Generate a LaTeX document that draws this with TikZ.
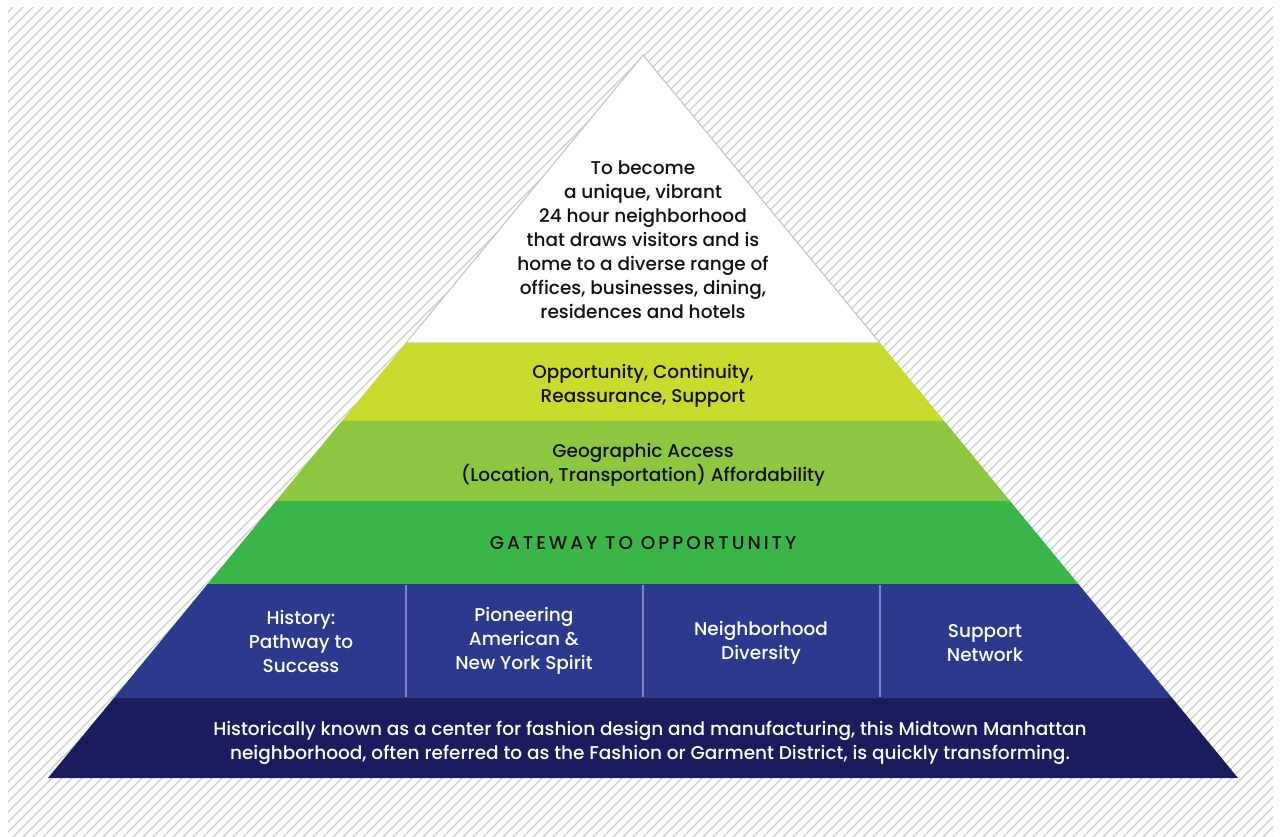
\documentclass[tikz,border=0pt]{standalone}
\usepackage{fontspec}
\setmainfont{Poppins}[UprightFont=* Medium]
\usetikzlibrary{calc}
\definecolor{hatchgray}{HTML}{CCCCCC}
\definecolor{edgegray}{HTML}{C8C8C8}
\definecolor{lime}{HTML}{C9DA2C}
\definecolor{leaf}{HTML}{8DC63F}
\definecolor{grass}{HTML}{39B54A}
\definecolor{royal}{HTML}{2C3A8E}
\definecolor{navy}{HTML}{1B1C5E}
\definecolor{divider}{HTML}{8083C0}
\definecolor{ink}{HTML}{111111}
\tikzset{
  band/.style={draw=none},
  dark/.style={text=ink, align=center, font=\fontsize{18.5}{24}\selectfont},
  light/.style={text=white, align=center, font=\fontsize{18.5}{24}\selectfont},
  hatch/.style={draw=hatchgray, line width=1.3pt},
  sep/.style={draw=divider, line width=2.6pt}
}
\begin{document}
\begin{tikzpicture}[x=1pt, y=-1pt]
\useasboundingbox (0,0) rectangle (1282,837);
% diagonal hatching behind the pyramid
\begin{scope}
  \clip (8,8) rectangle (1273,837);
  \foreach \i in {-840,-830,...,1280}
    \draw[hatch] (\i,840) -- ++(840,-840);
\end{scope}
% pyramid outline points
\coordinate (apex) at (643,55);
\coordinate (bl) at (48,778);
\coordinate (br) at (1238,778);
\foreach \n/\t in {1/0.3983,2/0.5062,3/0.6169,4/0.7317,5/0.8894}{
  \coordinate (L\n) at ($(apex)!\t!(bl)$);
  \coordinate (R\n) at ($(apex)!\t!(br)$);
}
% white top with grey rim
\fill[white] (apex) -- (L1) -- (R1) -- cycle;
\draw[edgegray, line width=1.2pt, line join=miter] (L1) -- (apex) -- (R1) -- cycle;
% coloured tiers
\fill[lime]  (L1) -- (R1) -- (R2) -- (L2) -- cycle;
\fill[leaf]  (L2) -- (R2) -- (R3) -- (L3) -- cycle;
\fill[grass] (L3) -- (R3) -- (R4) -- (L4) -- cycle;
\fill[royal] (L4) -- (R4) -- (R5) -- (L5) -- cycle;
\fill[navy]  (L5) -- (R5) -- (br) -- (bl) -- cycle;
% column dividers in the blue tier
\coordinate (d1t) at (406,585); \coordinate (d1b) at (406,697);
\coordinate (d2t) at (643,585); \coordinate (d2b) at (643,697);
\coordinate (d3t) at (880,585); \coordinate (d3b) at (880,697);
\draw[sep] (d1t) -- (d1b);
\draw[sep] (d2t) -- (d2b);
\draw[sep] (d3t) -- (d3b);
% texts
\node[dark] (vision) at (643,240) {To become\\a unique, vibrant\\24 hour neighborhood\\that draws visitors and is\\home to a diverse range of\\offices, businesses, dining,\\residences and hotels};
\node[dark] (values) at (643,386) {Opportunity, Continuity,\\Reassurance, Support};
\node[dark] (access) at (643,465) {Geographic Access\\(Location, Transportation) Affordability};
\node[dark, font=\fontsize{18.5}{24}\selectfont\addfontfeatures{LetterSpace=16}] (gateway) at (643,543) {GATEWAY TO OPPORTUNITY};
\node[light] (history) at (301,641) {History:\\Pathway to\\Success};
\node[light] (spirit) at (524,641) {Pioneering\\American \&\\New York Spirit};
\node[light] (diversity) at (761,643) {Neighborhood\\Diversity};
\node[light] (network) at (985,643) {Support\\Network};
\node[light] (district) at (650,743) {Historically known as a center for fashion design and manufacturing, this Midtown Manhattan\\neighborhood, often referred to as the Fashion or Garment District, is quickly transforming.};
\end{tikzpicture}
\end{document}
